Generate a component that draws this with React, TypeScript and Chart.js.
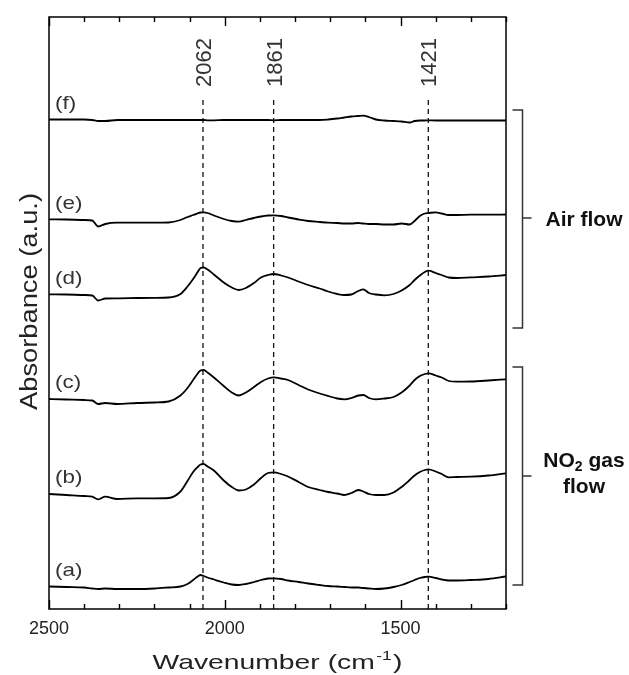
import React, { useEffect, useRef } from 'react';
import { Chart, registerables } from 'chart.js';

Chart.register(...registerables);

// ---- data (wavenumber in cm-1, absorbance in arbitrary offset units) ----
const wavenumbers = [
  2500, 2450, 2400, 2377, 2360, 2340, 2306, 2250, 2200, 2160,
  2126, 2106, 2090, 2077, 2069, 2060, 2049, 2031, 2003, 1980,
  1960, 1940, 1917, 1897, 1877, 1860, 1840, 1820, 1790, 1763,
  1730, 1706, 1680, 1660, 1640, 1620, 1606, 1590, 1570, 1546,
  1520, 1497, 1474, 1460, 1445, 1431, 1420, 1400, 1383, 1363,
  1340, 1300, 1250, 1200,
];

const spectrumA = [
  0.225, 0.22, 0.215, 0.205, 0.2, 0.205, 0.2, 0.2, 0.205, 0.215,
  0.225, 0.25, 0.29, 0.325, 0.34, 0.33, 0.315, 0.295, 0.265, 0.245,
  0.24, 0.25, 0.27, 0.29, 0.305, 0.307, 0.3, 0.285, 0.27, 0.255,
  0.24, 0.23, 0.225, 0.22, 0.215, 0.215, 0.21, 0.205, 0.2, 0.205,
  0.22, 0.24, 0.27, 0.29, 0.31, 0.32, 0.323, 0.31, 0.295, 0.285,
  0.285, 0.29, 0.3, 0.325,
];

const spectrumB = [
  1.15, 1.14, 1.13, 1.123, 1.097, 1.123, 1.1, 1.107, 1.107, 1.11,
  1.175, 1.28, 1.37, 1.42, 1.445, 1.45, 1.425, 1.385, 1.285, 1.22,
  1.185, 1.195, 1.245, 1.31, 1.36, 1.367, 1.35, 1.325, 1.27, 1.22,
  1.19, 1.17, 1.155, 1.14, 1.16, 1.19, 1.175, 1.15, 1.14, 1.14,
  1.165, 1.22, 1.29, 1.335, 1.37, 1.39, 1.397, 1.375, 1.35, 1.317,
  1.32, 1.323, 1.335, 1.357,
];

const spectrumC = [
  2.1, 2.095, 2.09, 2.085, 2.05, 2.06, 2.05, 2.06, 2.065, 2.075,
  2.135, 2.21, 2.29, 2.355, 2.385, 2.39, 2.365, 2.315, 2.23, 2.165,
  2.135, 2.165, 2.22, 2.27, 2.305, 2.317, 2.305, 2.29, 2.24, 2.195,
  2.155, 2.13, 2.105, 2.097, 2.11, 2.135, 2.14, 2.11, 2.097, 2.105,
  2.12, 2.165, 2.235, 2.29, 2.33, 2.35, 2.357, 2.335, 2.315, 2.28,
  2.273, 2.275, 2.285, 2.297,
];

const spectrumD = [
  3.147, 3.145, 3.14, 3.135, 3.085, 3.105, 3.107, 3.11, 3.112, 3.115,
  3.15, 3.225, 3.3, 3.37, 3.41, 3.415, 3.395, 3.345, 3.265, 3.215,
  3.19, 3.21, 3.26, 3.315, 3.34, 3.35, 3.335, 3.315, 3.275, 3.24,
  3.205, 3.175, 3.15, 3.14, 3.145, 3.18, 3.197, 3.16, 3.145, 3.137,
  3.15, 3.185, 3.24, 3.29, 3.335, 3.37, 3.383, 3.36, 3.34, 3.315,
  3.31, 3.317, 3.325, 3.34,
];

const spectrumE = [
  3.897, 3.895, 3.89, 3.885, 3.825, 3.85, 3.863, 3.863, 3.863, 3.865,
  3.89, 3.92, 3.94, 3.957, 3.965, 3.967, 3.96, 3.935, 3.9, 3.88,
  3.873, 3.89, 3.91, 3.925, 3.935, 3.937, 3.93, 3.915, 3.895, 3.88,
  3.87, 3.863, 3.86, 3.855, 3.855, 3.86, 3.855, 3.85, 3.85, 3.845,
  3.845, 3.855, 3.845, 3.88, 3.93, 3.955, 3.96, 3.967, 3.955, 3.94,
  3.94, 3.943, 3.943, 3.945,
];

const spectrumF = [
  4.895, 4.895, 4.895, 4.89, 4.88, 4.88, 4.89, 4.89, 4.89, 4.89,
  4.89, 4.89, 4.89, 4.89, 4.89, 4.89, 4.887, 4.887, 4.89, 4.89,
  4.89, 4.89, 4.89, 4.89, 4.89, 4.887, 4.89, 4.89, 4.89, 4.89,
  4.89, 4.895, 4.905, 4.915, 4.925, 4.93, 4.933, 4.92, 4.895, 4.885,
  4.88, 4.875, 4.865, 4.88, 4.885, 4.885, 4.887, 4.885, 4.885, 4.885,
  4.885, 4.885, 4.885, 4.885,
];

const spectra = [spectrumA, spectrumB, spectrumC, spectrumD, spectrumE, spectrumF];
const spectrumLabels = ['(a)', '(b)', '(c)', '(d)', '(e)', '(f)'];

const peakPositions = [2062, 1861, 1421];
const peakLabels = ['2062', '1861', '1421'];
const peakLineTop = 5.12;

const xMin = 1200;
const xMax = 2500;
const xMinorStep = 100;
const xMajorStep = 500;
const xTickLabels = [2500, 2000, 1500];
const yMin = 0;
const yMax = 5.92;

const bracketTops = [4.99, 2.42];
const bracketBottoms = [2.81, 0.24];
const bracketMids = [3.91, 1.33];
const bracketTexts = [['Air flow'], ['NO|2| gas', 'flow']];

const xTitle = 'Wavenumber (cm';
const xTitleSup = '-1';
const yTitle = 'Absorbance (a.u.)';

const FONT = "Arial, 'Liberation Sans', sans-serif";

function drawStretchedText(ctx: CanvasRenderingContext2D, text: string, x: number, y: number, font: string, sx: number, align: 'left' | 'center') {
  ctx.save();
  ctx.font = font;
  const w = ctx.measureText(text).width * sx;
  const startX = align === 'center' ? x - w / 2 : x;
  ctx.translate(startX, y);
  ctx.scale(sx, 1);
  ctx.textAlign = 'left';
  ctx.fillText(text, 0, 0);
  ctx.restore();
}

// draws text with |sub| segments as subscripts, centered at x
function drawBracketText(ctx: CanvasRenderingContext2D, text: string, cx: number, y: number) {
  const parts = text.split('|');
  const mainFont = `bold 21px ${FONT}`;
  const subFont = `bold 14px ${FONT}`;
  let total = 0;
  parts.forEach((p, i) => {
    ctx.font = i % 2 === 1 ? subFont : mainFont;
    total += ctx.measureText(p).width;
  });
  let x = cx - total / 2;
  parts.forEach((p, i) => {
    const isSub = i % 2 === 1;
    ctx.font = isSub ? subFont : mainFont;
    ctx.fillText(p, x, isSub ? y + 4 : y);
    x += ctx.measureText(p).width;
  });
}

const decorPlugin = {
  id: 'decor',
  afterDatasetsDraw(chart: any) {
    const { ctx, chartArea: a, scales } = chart;
    const xs = scales.x;
    const ys = scales.y;
    ctx.save();
    ctx.textAlign = 'left';
    ctx.textBaseline = 'alphabetic';

    // frame
    ctx.strokeStyle = '#000';
    ctx.lineWidth = 1.5;
    ctx.strokeRect(a.left, a.top, a.right - a.left, a.bottom - a.top);

    // inner tick marks (bottom and top)
    ctx.lineWidth = 1.4;
    ctx.strokeStyle = '#000';
    ctx.beginPath();
    for (let v = xMin; v <= xMax; v += xMinorStep) {
      const px = Math.round(xs.getPixelForValue(v)) + 0.5;
      const len = v % xMajorStep === 0 ? 9 : 5;
      ctx.moveTo(px, a.bottom);
      ctx.lineTo(px, a.bottom - len);
      ctx.moveTo(px, a.top);
      ctx.lineTo(px, a.top + len);
    }
    ctx.stroke();

    // peak labels (rotated)
    ctx.fillStyle = '#333';
    ctx.font = `22px ${FONT}`;
    peakPositions.forEach((p, i) => {
      const px = xs.getPixelForValue(p);
      ctx.save();
      ctx.translate(px + 8, 62.5);
      ctx.rotate(-Math.PI / 2);
      ctx.textAlign = 'center';
      ctx.fillText(peakLabels[i], 0, 0);
      ctx.restore();
    });

    // spectrum labels
    ctx.fillStyle = '#333';
    spectrumLabels.forEach((lab, i) => {
      const py = ys.getPixelForValue(spectra[i][0]) - 16;
      ctx.textBaseline = 'middle';
      drawStretchedText(ctx, lab, a.left + 6, py, `19px ${FONT}`, 1.18, 'left');
    });
    ctx.textBaseline = 'alphabetic';

    // brackets
    ctx.strokeStyle = '#333';
    ctx.lineWidth = 1.5;
    const bx = a.right + 16.5;
    bracketTops.forEach((top, i) => {
      const yt = ys.getPixelForValue(top);
      const yb = ys.getPixelForValue(bracketBottoms[i]);
      const ym = ys.getPixelForValue(bracketMids[i]);
      ctx.beginPath();
      ctx.moveTo(bx - 10, yt);
      ctx.lineTo(bx, yt);
      ctx.lineTo(bx, yb);
      ctx.lineTo(bx - 10, yb);
      ctx.moveTo(bx, ym);
      ctx.lineTo(bx + 9, ym);
      ctx.stroke();
      ctx.fillStyle = '#111';
      const lines = bracketTexts[i];
      const lh = 26;
      const startY = ym - ((lines.length - 1) * lh) / 2 - (lines.length > 1 ? 4 : 0);
      lines.forEach((ln, j) => {
        drawBracketText(ctx, ln, 584, startY + j * lh + 7.5);
      });
    });

    ctx.restore();
  },
  afterDraw(chart: any) {
    const { ctx, chartArea: a } = chart;
    ctx.save();
    ctx.fillStyle = '#222';
    ctx.textBaseline = 'alphabetic';
    // x title with superscript, stretched to width 250
    const mainFont = `21px ${FONT}`;
    const supFont = `13px ${FONT}`;
    ctx.font = mainFont;
    const w1 = ctx.measureText(xTitle).width;
    ctx.font = supFont;
    const w2 = ctx.measureText(xTitleSup).width;
    ctx.font = mainFont;
    const w3 = ctx.measureText(')').width;
    const natural = w1 + w2 + 2 + w3;
    const sx = 250 / natural;
    const cx = (a.left + a.right) / 2;
    ctx.translate(cx - 125, 669);
    ctx.scale(sx, 1);
    ctx.font = mainFont;
    ctx.fillText(xTitle, 0, 0);
    ctx.font = supFont;
    ctx.fillText(xTitleSup, w1 + 1, -9);
    ctx.font = mainFont;
    ctx.fillText(')', w1 + w2 + 2, 0);
    ctx.restore();

    // y title, rotated, stretched to length 217
    ctx.save();
    ctx.fillStyle = '#222';
    ctx.font = `23px ${FONT}`;
    const yw = ctx.measureText(yTitle).width;
    const sy = 217 / yw;
    ctx.translate(37, 301.5);
    ctx.rotate(-Math.PI / 2);
    ctx.scale(sy, 1);
    ctx.textAlign = 'center';
    ctx.textBaseline = 'alphabetic';
    ctx.fillText(yTitle, 0, 0);
    ctx.restore();
  },
};

export default function App() {
  const canvasRef = useRef<HTMLCanvasElement | null>(null);

  useEffect(() => {
    if (!canvasRef.current) return;
    const spectrumSets = spectra.map((s, i) => ({
      label: spectrumLabels[i],
      data: wavenumbers.map((w, k) => ({ x: w, y: s[k] })),
      borderColor: '#000',
      borderWidth: 1.8,
      pointRadius: 0,
      tension: 0,
      cubicInterpolationMode: 'monotone' as const,
      fill: false,
    }));
    const peakSets = peakPositions.map((p, i) => ({
      label: peakLabels[i],
      data: [{ x: p, y: yMin }, { x: p, y: peakLineTop }],
      borderColor: '#111',
      borderWidth: 1.3,
      borderDash: [5, 4],
      pointRadius: 0,
      fill: false,
    }));

    const chart = new Chart(canvasRef.current, {
      type: 'line',
      data: { datasets: [...peakSets, ...spectrumSets] as any },
      options: {
        animation: false,
        responsive: true,
        maintainAspectRatio: false,
        layout: { padding: { left: 49, right: 123, top: 17, bottom: 0 } },
        plugins: {
          legend: { display: false },
          tooltip: { enabled: false },
          title: { display: false },
        },
        scales: {
          x: {
            type: 'linear',
            reverse: true,
            min: xMin,
            max: xMax,
            grid: { display: false, drawTicks: false },
            border: { display: false },
            ticks: {
              stepSize: xMinorStep,
              includeBounds: false,
              autoSkip: false,
              maxRotation: 0,
              padding: 9,
              color: '#222',
              font: { family: FONT, size: 18 },
              callback: (v: any) => (xTickLabels.includes(Number(v)) ? String(v) : ''),
            },
            afterFit: (scale: any) => {
              scale.height = 66;
            },
          },
          y: {
            display: false,
            min: yMin,
            max: yMax,
          },
        },
      },
      plugins: [decorPlugin],
    });
    return () => chart.destroy();
  }, []);

  return (
    <div style={{ position: 'absolute', left: 0, top: 0, width: 629, height: 675, background: '#fff' }}>
      <canvas ref={canvasRef} />
    </div>
  );
}
